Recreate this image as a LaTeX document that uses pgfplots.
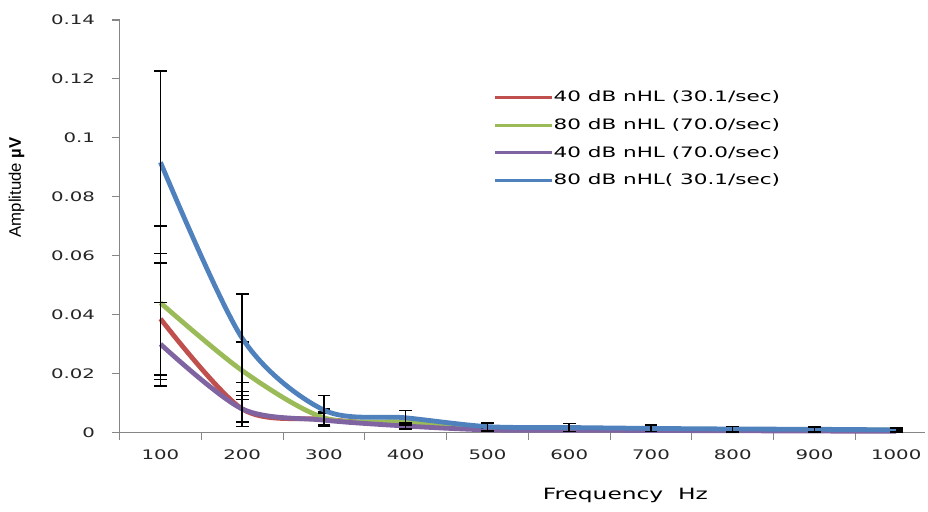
\documentclass[border=0pt]{standalone}
\usepackage{pgfplots}
\pgfplotsset{compat=1.18}
\usepackage{fontspec}
\setmainfont{DejaVu Sans}[FakeStretch=1.5]
\newfontfamily\labfont{Liberation Sans}

\definecolor{xred}{HTML}{C0504D}
\definecolor{xgreen}{HTML}{9BBB59}
\definecolor{xpurple}{HTML}{8064A2}
\definecolor{xblue}{HTML}{4F81BD}
\definecolor{axgray}{HTML}{868686}

% x, mean, error
\pgfplotstableread{
x    red     rerr    green   gerr    purple  perr    blue    berr
100  0.0386  0.0190  0.0440  0.0260  0.0300  0.0142  0.0917  0.0310
200  0.0080  0.0060  0.0210  0.0098  0.0080  0.0045  0.0320  0.0150
300  0.0045  0.0025  0.0050  0.0030  0.0042  0.0022  0.0076  0.0050
400  0.0025  0.0012  0.0035  0.0015  0.0022  0.0010  0.0050  0.0024
500  0.0012  0.0006  0.0013  0.0007  0.0009  0.0005  0.0020  0.0013
600  0.0010  0.0005  0.0012  0.0006  0.0008  0.0005  0.0017  0.0013
700  0.0009  0.0005  0.0011  0.0005  0.0007  0.0004  0.0014  0.0011
800  0.0008  0.0004  0.0010  0.0005  0.0006  0.0004  0.0012  0.0009
900  0.0007  0.0004  0.0009  0.0004  0.0005  0.0003  0.0011  0.0008
1000 0.0006  0.0003  0.0008  0.0004  0.0004  0.0003  0.0009  0.0007
}\abr

\begin{document}
\begin{tikzpicture}
\begin{axis}[
    scale only axis,
    width=404pt, height=207pt,
    xmin=50, xmax=1035,
    ymin=0, ymax=0.14,
    clip=false,
    axis x line*=bottom, axis y line*=left,
    axis line style={-, axgray, line width=0.6pt},
    tick style={axgray, line width=0.6pt},
    tick align=outside,
    major tick length=3.8pt,
    xtick={50,150,...,950},
    xticklabels={},
    extra x ticks={100,200,...,1000},
    extra x tick style={major tick length=0pt, xticklabel style={yshift=-5pt}},
    extra x tick labels={100,200,300,400,500,600,700,800,900,1000},
    ytick={0,0.02,...,0.14},
    scaled y ticks=false,
    yticklabel style={/pgf/number format/fixed, /pgf/number format/precision=2, xshift=-5pt},
    /pgf/number format/assume math mode=true,
    tick label style={font=\fontsize{6.6}{8}\selectfont, text=black!85},
    xlabel={Frequency\ \ Hz},
    xlabel style={font=\fontsize{7.8}{9}\selectfont, at={(axis description cs:0.628,-0.152)}, anchor=center},
    ylabel={Amplitude \textbf{µV}},
    ylabel style={font=\labfont\fontsize{8.4}{10}\selectfont, at={(axis description cs:-0.128,0.594)}, anchor=center},
    legend style={draw=none, fill=none, at={(axis description cs:0.464,0.831)}, anchor=north west,
        font=\fontsize{7.2}{8.5}\selectfont, inner sep=0pt, row sep=6.5pt, column sep=0pt,
        nodes={inner sep=0pt, text height=5.8pt, text depth=1.6pt}},
    legend cell align=left,
    legend image code/.code={\draw[#1, line width=1.6pt] (0pt,0pt) -- (28.5pt,0pt);},
    every axis plot/.append style={smooth, line width=2.4pt, no marks},
    error bars/y dir=both, error bars/y explicit,
    error bars/error bar style={black, line width=0.75pt, solid},
    error bars/error mark options={black, rotate=90, mark size=3.2pt, line width=0.75pt},
]
\addplot[xred] table[x=x, y=red, y error=rerr] {\abr};
\addlegendentry{40 dB nHL (30.1/sec)}
\addplot[xgreen] table[x=x, y=green, y error=gerr] {\abr};
\addlegendentry{80 dB nHL (70.0/sec)}
\addplot[xpurple] table[x=x, y=purple, y error=perr] {\abr};
\addlegendentry{40 dB nHL (70.0/sec)}
\addplot[xblue] table[x=x, y=blue, y error=berr] {\abr};
\addlegendentry{80 dB nHL( 30.1/sec)}
\end{axis}
\path ([shift={(-60pt,-39.5pt)}]current axis.south west) rectangle ([shift={(404pt,217pt)}]current axis.south west);
\end{tikzpicture}
\end{document}
